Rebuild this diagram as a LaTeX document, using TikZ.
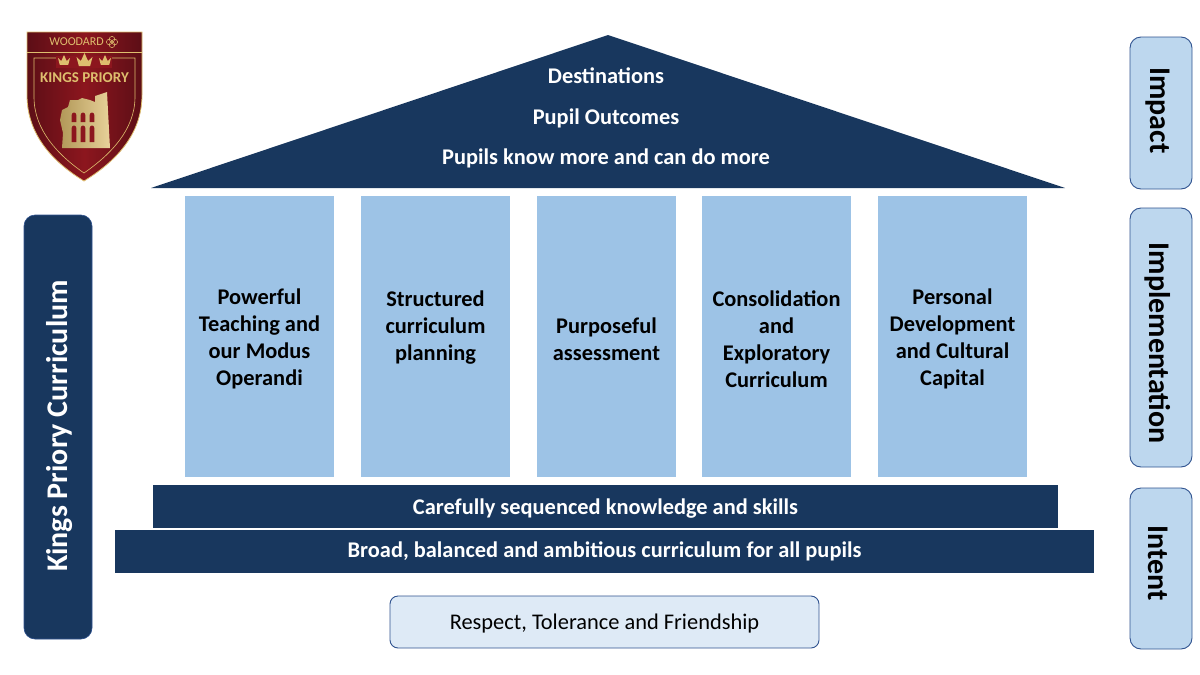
\documentclass[tikz,border=0pt]{standalone}
\usepackage{fontspec}
\setmainfont{Carlito}
\usepackage{xcolor}
\usetikzlibrary{positioning,calc}
\definecolor{navy}{RGB}{24,55,94}
\definecolor{pillarblue}{RGB}{157,195,230}
\definecolor{sideblue}{RGB}{189,215,238}
\definecolor{paleblue}{RGB}{222,234,246}
\definecolor{edgeblue}{RGB}{47,82,143}
\definecolor{crestred}{RGB}{140,22,30}
\definecolor{crestdark}{RGB}{92,14,22}
\definecolor{gold}{RGB}{222,190,110}
\tikzset{
  barbox/.style={fill=navy, inner sep=0pt},
  barlabel/.style={text=white, font=\fontsize{22.4}{27}\selectfont\bfseries},
  pillarbox/.style={fill=pillarblue, inner sep=0pt},
  pillarlabel/.style={font=\fontsize{22.4}{27}\selectfont\bfseries, align=center, inner sep=0pt},
  sidebox/.style={draw=edgeblue, fill=sideblue, rounded corners=11pt, line width=0.9pt, inner sep=0pt},
  sidelabel/.style={rotate=-90, font=\fontsize{30}{34}\selectfont\bfseries},
  rooflabel/.style={text=white, font=\fontsize{22.4}{27}\selectfont\bfseries}
}
\begin{document}
\begin{tikzpicture}[x=1pt, y=-1pt]
  \useasboundingbox (0,0) rectangle (1200,675);
  % crest
  \shade[left color=crestdark, right color=crestdark, middle color=crestred]
    (27,32) -- (142,32) -- (142,95) .. controls (142,135) and (115,162) .. (84,181)
    .. controls (53,162) and (27,135) .. (27,95) -- cycle;
  \draw[gold, line width=0.8pt]
    (27,32) -- (142,32) -- (142,95) .. controls (142,135) and (115,162) .. (84,181)
    .. controls (53,162) and (27,135) .. (27,95) -- cycle;
  \draw[gold, line width=0.6pt] (27,52) -- (142,52);
  \draw[gold, line width=0.6pt]
    (34,58) -- (135,58) -- (135,97) .. controls (135,130) and (110,155) .. (84,173)
    .. controls (58,155) and (34,130) .. (34,97) -- cycle;
  \newcommand{\crown}[3]{%
    \fill[gold] (#1-#3,#2-0.5*#3) -- (#1-0.45*#3,#2) -- (#1,#2-#3) -- (#1+0.45*#3,#2) -- (#1+#3,#2-0.5*#3)
      -- (#1+0.7*#3,#2+0.65*#3) -- (#1-0.7*#3,#2+0.65*#3) -- cycle;
  }
  \fill[crestred] (56,56) rectangle (112,68);
  \crown{64}{61}{6}
  \crown{84.5}{61}{8}
  \crown{105}{61}{6}
  \node[text=gold, font=\fontsize{12}{14}\selectfont] (woodard) at (76.5,42) {WOODARD};
  \foreach \dx/\dy in {-2.8/0,2.8/0,0/-2.8,0/2.8}{
    \draw[gold, line width=0.5pt] (112+\dx,42+\dy) circle (2.8);
  }
  \node[text=gold, font=\fontsize{15}{17}\selectfont\bfseries] (crestname) at (84.5,78) {KINGS PRIORY};
  \shade[left color=gold!80!black, right color=gold!70!white]
    (62,110) -- (68,107) -- (70,100) -- (78,100) -- (82,98) -- (90,100) -- (95,102) -- (95,96) -- (107,92)
    -- (110,148) -- (62,148) -- (63,133) -- (60,120) -- cycle;
  \foreach \wx in {74,83,92}{
    \fill[crestred] (\wx-2.3,122) -- (\wx-2.3,115) arc (180:360:2.3 and 2.5) -- (\wx+2.3,122) -- cycle;
    \fill[crestred] (\wx-2.3,142) -- (\wx-2.3,128) arc (180:360:2.3 and 2.5) -- (\wx+2.3,142) -- cycle;
  }
  % roof
  \fill[navy] (151,188) -- (608,35) -- (1065,188) -- cycle;
  \node[rooflabel] (destinations) at (606,76) {Destinations};
  \node[rooflabel] (outcomes) at (606,118.5) {Pupil Outcomes};
  \node[rooflabel] (knowmore) at (606,158.5) {Pupils know more and can do more};
  % pillars
  \foreach \nm/\xa/\bw/\txt in {teaching/185/149/{Powerful\\Teaching and\\our Modus\\Operandi},
    planning/361/149/{Structured\\curriculum\\planning\\\mbox{}},
    assessment/537/139/{Purposeful\\assessment},
    consolidation/702/149/{Consolidation\\and\\Exploratory\\Curriculum},
    development/878/149/{Personal\\Development\\and Cultural\\Capital}}{
    \node[pillarbox, minimum width=\bw pt, minimum height=281pt] (\nm) at (\xa+\bw/2,336.5) {};
    \node[pillarlabel, yshift=-2.5pt] (\nm label) at (\nm.center) {\txt};
  }
  % base
  \node[barbox, minimum width=905pt, minimum height=43pt] (sequenced) at (605.5,506.5) {};
  \node[barlabel, yshift=-2pt] (sequencedlabel) at (sequenced.center) {Carefully sequenced knowledge and skills};
  \node[barbox, minimum width=979pt, minimum height=43pt] (broad) at (604.5,551.5) {};
  \node[barlabel] (broadlabel) at (broad.center) {Broad, balanced and ambitious curriculum for all pupils};
  \node[draw=edgeblue, fill=paleblue, rounded corners=8pt, line width=0.9pt, inner sep=0pt, minimum width=429pt, minimum height=52pt] (values) at (604.5,622) {};
  \node[font=\fontsize{22.4}{27}\selectfont, yshift=-1.5pt] (valueslabel) at (values.center) {Respect, Tolerance and Friendship};
  % sides
  \node[draw=edgeblue, fill=navy, rounded corners=11pt, line width=0.6pt, inner sep=0pt, minimum width=68pt, minimum height=424pt] (curriculum) at (58,427) {};
  \node[rotate=90, text=white, font=\fontsize{30}{34}\selectfont\bfseries] (curriculumlabel) at (60,426) {Kings Priory Curriculum};
  \foreach \nm/\ya/\bh/\oy/\txt in {impact/37/152/110.5/Impact,implementation/208/259/343/Implementation,intent/488/161/563.5/Intent}{
    \node[sidebox, minimum width=62pt, minimum height=\bh pt] (\nm) at (1161,\ya+\bh/2) {};
    \node[sidelabel] (\nm label) at (1158,\oy) {\txt};
  }
\end{tikzpicture}
\end{document}
